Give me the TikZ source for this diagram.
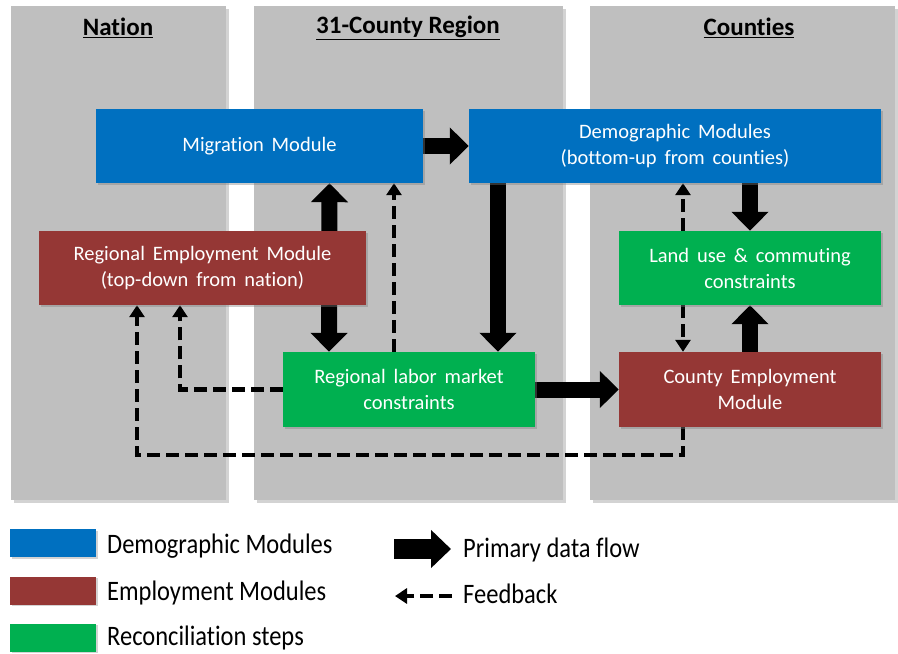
\documentclass[tikz,border=0pt]{standalone}
\usepackage{fontspec}
\setmainfont{Carlito}[Ligatures=NoCommon]
\newfontfamily\boxfont{Carlito}[WordSpace=1.7, Ligatures=NoCommon]
\usetikzlibrary{arrows.meta,shadows}

\definecolor{panelgray}{RGB}{191,191,191}
\definecolor{demoblue}{RGB}{0,112,192}
\definecolor{emplred}{RGB}{149,55,53}
\definecolor{recongreen}{RGB}{0,176,80}

\pgfdeclarelayer{panels}
\pgfdeclarelayer{links}
\pgfsetlayers{panels,links,main}

\newcommand{\talltext}[1]{\scalebox{1}[1.15]{#1}}

\tikzset{
  panel/.style={fill=panelgray, draw=none,
    drop shadow={shadow xshift=2.5pt, shadow yshift=-2.5pt, opacity=0.35}},
  module/.style={draw=none, text=white, align=center, inner sep=0pt,
    font=\boxfont\fontsize{20.5}{26}\selectfont,
    drop shadow={shadow xshift=2pt, shadow yshift=-2pt, opacity=0.4}},
  demo/.style={module, fill=demoblue},
  empl/.style={module, fill=emplred},
  recon/.style={module, fill=recongreen},
  header/.style={font=\bfseries\fontsize{25}{28}\selectfont},
  bigarrow/.style={line width=16pt, black,
    -{Triangle[length=19pt, width=36pt]}},
  bigboth/.style={line width=16pt, black,
    {Triangle[length=19pt, width=36pt]}-{Triangle[length=19pt, width=36pt]}},
  fb/.style={line width=4.5pt, black, dash pattern=on 13pt off 6pt,
    -{Triangle[length=12pt, width=15pt]}},
  swatch/.style={draw=none, minimum width=86pt, minimum height=28pt, inner sep=0pt,
    drop shadow={shadow xshift=1.5pt, shadow yshift=-1.5pt, opacity=0.35}},
  legtext/.style={anchor=west, inner sep=0pt, font=\fontsize{24.5}{26}\selectfont}
}

\begin{document}
\begin{tikzpicture}[x=1pt, y=-1pt]
  \useasboundingbox (0,0) rectangle (898,654);

  % column panels
  \begin{pgfonlayer}{panels}
    \path[panel] (11,6) rectangle (226,500);
    \path[panel] (254,6) rectangle (563,500);
    \path[panel] (590,6) rectangle (895,500);
  \end{pgfonlayer}

  % column headings
  \node[header] (hnation) at (118,28) {\underline{Nation}};
  \node[header] (hregion) at (408,28) {\underline{31-County Region}};
  \node[header] (hcounty) at (749,28) {\underline{Counties}};

  % modules
  \node[demo, minimum width=327pt, minimum height=74pt] (mig) at (259.5,146) {Migration Module};
  \node[demo, minimum width=412pt, minimum height=74pt] (dem) at (675,146)
    {Demographic Modules\\(bottom-up from counties)};
  \node[empl, minimum width=327pt, minimum height=74pt] (regemp) at (202.5,268)
    {Regional Employment Module\\(top-down from nation)};
  \node[recon, minimum width=252pt, minimum height=75pt] (lab) at (409,389.5)
    {Regional labor market\\constraints};
  \node[recon, minimum width=262pt, minimum height=74pt] (lu) at (750,268)
    {Land use \& commuting\\constraints};
  \node[empl, minimum width=262pt, minimum height=75pt] (ce) at (750,389.5)
    {County Employment\\Module};

  \coordinate (loop) at (137,455);

  % connectors
  \begin{pgfonlayer}{links}
    % primary data flow
    \draw[bigarrow] (mig.east) -- (dem.west);
    \draw[bigboth] ([xshift=70pt]mig.south) -- ([xshift=-80pt]lab.north);
    \draw[bigarrow] ([xshift=-177pt]dem.south) -- ([xshift=89pt]lab.north);
    \draw[bigarrow] (lab.east) -- (ce.west);
    \draw[bigarrow] ([xshift=75pt]dem.south) -- (lu.north);
    \draw[bigarrow] (ce.north) -- (lu.south);
    % feedback
    \draw[fb] ([xshift=-15pt]lab.north) -- ([xshift=134.5pt]mig.south);
    \draw[fb] (lab.west) -| ([xshift=-22.5pt]regemp.south);
    \draw[fb] ([xshift=-67pt]ce.south) |- (loop) -- ([xshift=-65.5pt]regemp.south);
    \draw[fb] ([xshift=-67pt]lu.north) -- ([xshift=8pt]dem.south);
    \draw[fb] ([xshift=-67pt]lu.south) -- ([xshift=-67pt]ce.north);
  \end{pgfonlayer}

  % legend
  \node[swatch, fill=demoblue] (kdemo) at (53,543) {};
  \node[swatch, fill=emplred] (kempl) at (53,590.5) {};
  \node[swatch, fill=recongreen] (krecon) at (53,637.5) {};
  \node[legtext] (tdemo) at (107,546) {\talltext{Demographic Modules}};
  \node[legtext] (templ) at (107,593) {\talltext{Employment Modules}};
  \node[legtext] (trecon) at (107,638) {\talltext{Reconciliation steps}};

  \coordinate (pfa) at (394,549);
  \coordinate (pfb) at (451,549);
  \draw[line width=20pt, black, -{Triangle[length=20pt, width=37pt]}] (pfa) -- (pfb);
  \node[legtext] (tpf) at (463,550) {\talltext{Primary data flow}};

  \coordinate (fba) at (452,596);
  \coordinate (fbb) at (395,596);
  \draw[fb] (fba) -- (fbb);
  \node[legtext] (tfb) at (463,594) {\talltext{Feedback}};
\end{tikzpicture}
\end{document}
